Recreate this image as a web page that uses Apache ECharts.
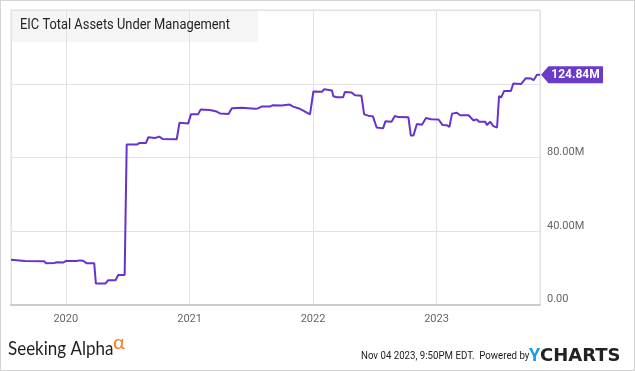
<!DOCTYPE html>
<html>
<head>
<meta charset="utf-8">
<script src="https://cdn.jsdelivr.net/npm/echarts@6/dist/echarts.min.js"></script>
<style>
  html, body { margin: 0; padding: 0; background: #fff; }
  #wrap { position: relative; width: 635px; height: 371px; box-sizing: border-box; border: 1px solid #d4d4d4; }
  #chart { position: absolute; left: -1px; top: -1px; width: 635px; height: 371px; }
</style>
</head>
<body>
<div id="wrap"><div id="chart"></div></div>
<script>
// ---- data ----
const chartTitle = 'EIC Total Assets Under Management';
const dates = [
  '2019-07-23','2019-09-02','2019-10-29','2019-11-04','2019-11-27','2019-12-06','2019-12-24',
  '2020-01-02','2020-02-01','2020-02-11','2020-02-21','2020-03-02','2020-03-25','2020-03-30',
  '2020-04-27','2020-05-05','2020-05-27','2020-06-04','2020-06-23','2020-06-29','2020-07-29',
  '2020-08-05','2020-08-25','2020-09-01','2020-09-21','2020-10-03','2020-10-13','2020-11-24',
  '2020-12-02','2020-12-28','2021-01-05','2021-01-26','2021-02-03','2021-03-02','2021-03-22',
  '2021-04-01','2021-04-26','2021-05-06','2021-06-04','2021-07-13','2021-07-22','2021-08-02',
  '2021-08-26','2021-09-03','2021-09-30','2021-10-05','2021-10-24','2021-11-03','2021-11-23',
  '2021-12-03','2021-12-23','2022-01-02','2022-01-27','2022-02-03','2022-02-26','2022-03-02',
  '2022-03-12','2022-03-31','2022-04-05','2022-04-25','2022-05-05','2022-05-24','2022-06-01',
  '2022-06-13','2022-06-27','2022-07-08','2022-07-27','2022-08-03','2022-08-21','2022-08-31',
  '2022-09-10','2022-10-10','2022-10-17','2022-10-25','2022-11-04','2022-11-19','2022-12-01',
  '2022-12-16','2023-01-07','2023-01-19','2023-02-01','2023-02-08','2023-02-16','2023-03-02',
  '2023-03-12','2023-04-06','2023-04-20','2023-04-30','2023-05-07','2023-05-25','2023-05-30',
  '2023-06-09','2023-06-18','2023-06-29','2023-07-05','2023-07-11','2023-07-20','2023-08-09',
  '2023-08-16','2023-09-08','2023-09-12','2023-09-22','2023-10-08','2023-10-15','2023-10-25',
  '2023-11-03'
];
const aumMillions = [
  24.5, 23.9, 23.7, 22.7, 22.8, 23.2, 23.0,
  23.9, 23.9, 24.2, 24.0, 22.7, 22.7, 11.6,
  11.6, 13.4, 13.4, 16.3, 16.3, 87.1, 87.0,
  87.8, 87.8, 91.0, 90.6, 91.3, 90.1, 89.9,
  98.8, 98.5, 103.4, 103.4, 106.1, 105.8, 104.9,
  103.9, 103.6, 106.7, 107.0, 106.5, 106.6, 107.6,
  107.6, 108.3, 108.2, 109.0, 108.7, 107.6, 106.4,
  105.4, 103.4, 115.8, 115.6, 117.0, 116.3, 113.2,
  112.7, 112.7, 115.5, 115.3, 113.7, 113.5, 103.4,
  102.7, 102.3, 96.3, 95.8, 99.6, 99.4, 102.5,
  101.9, 101.8, 92.0, 92.0, 98.2, 97.8, 101.4,
  100.7, 100.6, 97.6, 97.5, 96.5, 103.8, 104.3,
  102.9, 102.9, 100.1, 100.7, 99.4, 99.4, 97.6,
  99.4, 97.0, 96.3, 113.4, 112.5, 116.1, 116.1,
  120.1, 119.8, 118.8, 123.0, 122.8, 121.9, 124.84,
  124.84
];
const yTickValues = [0, 40, 80, 120, 160];
const yTickLabels = ['0.00', '40.00M', '80.00M', '', ''];
const xStart = '2019-07-23';
const xEnd = '2023-11-03';
const footerText = 'Nov 04 2023, 9:50PM EDT.  Powered by';

// ---- chart ----
const seriesData = dates.map((d, i) => [d, aumMillions[i]]);
const lastIdx = dates.length - 1;
const YEAR = 365 * 24 * 3600 * 1000;
const lineColor = '#6633cc';

const chart = echarts.init(document.getElementById('chart'), null, { renderer: 'canvas' });
chart.setOption({
  animation: false,
  backgroundColor: 'transparent',
  grid: { left: 11, right: 95, top: 10, bottom: 66, show: true, borderColor: '#dcdcdc', borderWidth: 1, containLabel: false },
  xAxis: {
    type: 'time',
    min: xStart,
    max: xEnd,
    minInterval: YEAR,
    maxInterval: YEAR,
    axisLine: { show: true, lineStyle: { color: '#cccccc', width: 2 } },
    axisTick: { show: false },
    axisLabel: {
      color: '#666', fontSize: 11, fontFamily: 'Roboto', margin: 9,
      formatter: v => String(new Date(v).getFullYear()),
      showMinLabel: false, showMaxLabel: false
    },
    splitLine: { show: true, lineStyle: { color: '#e2e2e2', width: 1 } }
  },
  yAxis: {
    type: 'value',
    position: 'right',
    min: 0, max: 160, interval: 40,
    axisLine: { show: false },
    axisTick: { show: false },
    axisLabel: {
      color: '#666', fontSize: 11, fontFamily: 'Roboto', margin: 7, verticalAlign: 'bottom',
      formatter: v => { const i = yTickValues.indexOf(v); return i >= 0 ? yTickLabels[i] : ''; }
    },
    splitLine: { show: true, lineStyle: { color: '#e2e2e2', width: 1 } }
  },
  series: [{
    type: 'line',
    data: seriesData,
    showSymbol: false,
    symbol: 'none',
    lineStyle: { color: lineColor, width: 2 },
    clip: true,
    markPoint: {
      silent: true,
      symbol: 'path://M0,8.5 L7.5,0 L62,0 L62,17 L7.5,17 Z',
      symbolSize: [62, 17],
      symbolKeepAspect: false,
      symbolOffset: [32, 0],
      itemStyle: { color: '#6a3bc9' },
      label: {
        show: true, position: 'inside', offset: [3.5, 0],
        color: '#fff', fontWeight: 'bold', fontSize: 12, fontFamily: 'Roboto',
        formatter: p => p.value.toFixed(2) + 'M'
      },
      data: [{ coord: [dates[lastIdx], aumMillions[lastIdx]], value: aumMillions[lastIdx] }]
    }
  }],
  graphic: [
    { type: 'rect', left: 11, top: 10, z: -1, shape: { width: 247, height: 32 }, style: { fill: 'rgba(0,0,0,0.04)' } },
    { type: 'text', x: 20, y: 18, z: 10, scaleX: 0.92, style: { text: chartTitle, font: '14px Roboto', fill: '#222' } },
    { type: 'text', x: 8, y: 339, scaleX: 0.85, style: { text: 'Seeking Alpha', font: '20px Lato', fill: '#1e1e1e' } },
    { type: 'text', x: 113, y: 333, style: { text: 'α', font: '20px Lato', fill: '#f47a20' } },
    { type: 'text', x: 361, y: 351, scaleX: 0.88, style: { text: footerText, font: '11px Roboto', fill: '#222' } },
    { type: 'text', x: 529, y: 347, style: { text: 'Y', font: 'bold 18px Roboto', fill: '#1a9be6' } },
    { type: 'text', x: 540, y: 347, style: { text: 'CHARTS', font: 'bold 18px DejaVu Sans', fill: '#222' } }
  ]
});
</script>
</body>
</html>
